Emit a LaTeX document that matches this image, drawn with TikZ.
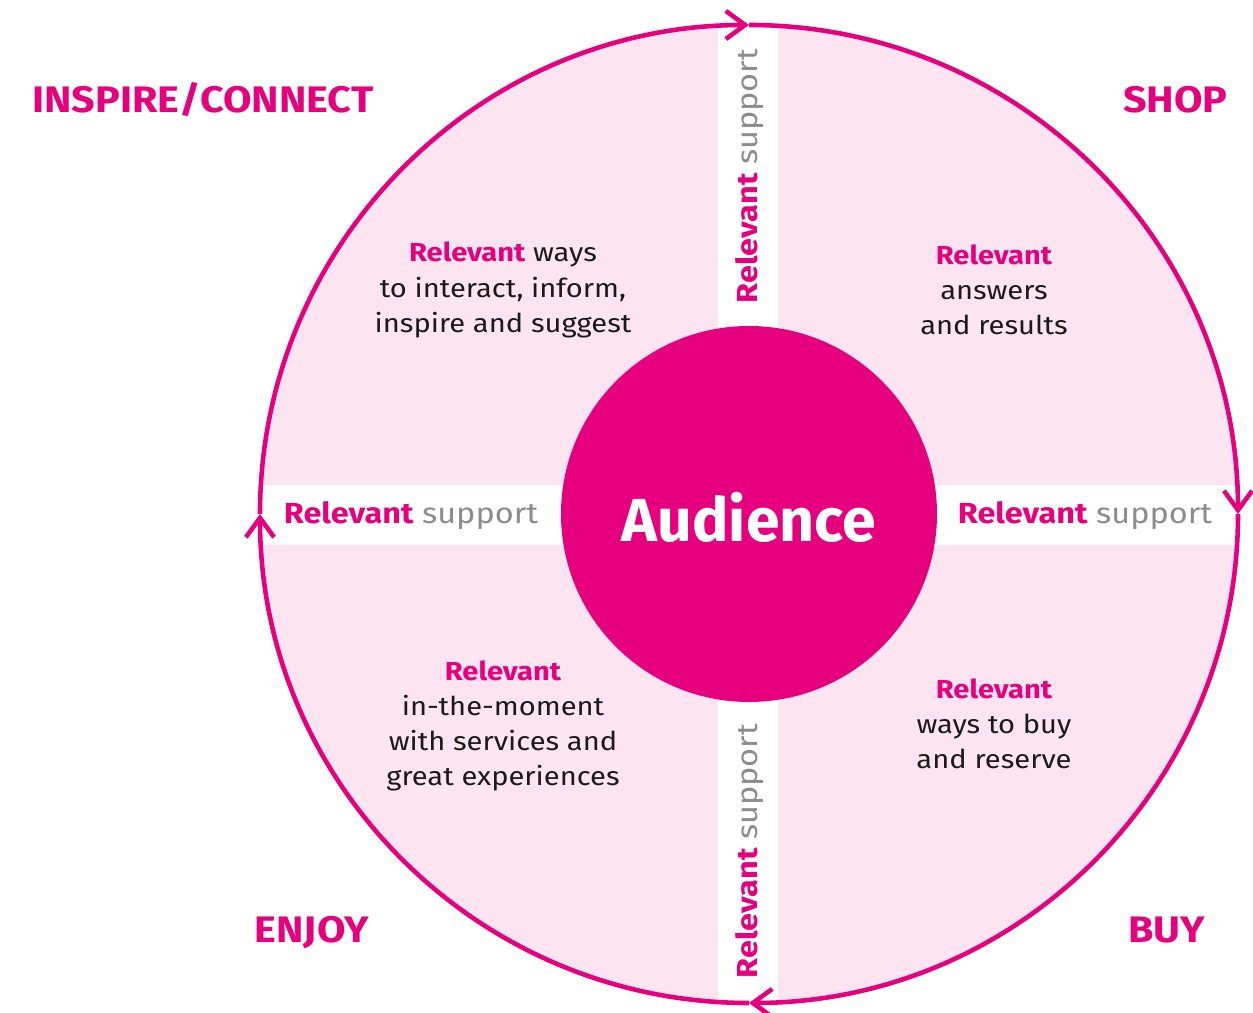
\documentclass[tikz,border=0pt]{standalone}
\usepackage{fontspec}
\setmainfont[FakeStretch=1.12]{Fira Sans}
\newfontfamily\hubfont{Fira Sans}
\usepackage{xcolor}
\usepackage{tikz}
\usetikzlibrary{arrows.meta}
\definecolor{brand}{HTML}{E6007E}
\definecolor{blush}{HTML}{FCE4F0}
\definecolor{muted}{HTML}{8C8C8C}
\definecolor{ink}{HTML}{1A1A1A}
\newcommand{\rel}{\textbf{\textcolor{brand}{Relevant}}}
\tikzset{
    stage/.style={inner sep=0pt, text=brand, font=\fontsize{21}{25}\selectfont\bfseries},
    quadrant/.style={align=center, text=ink, font=\fontsize{14.8}{20}\selectfont},
    support/.style={inner sep=0pt, text=muted, font=\fontsize{16.5}{20}\selectfont},
    hub/.style={text=white, font=\hubfont\fontsize{34.6}{40}\selectfont\bfseries},
    cycle/.style={draw=brand, line width=2.6pt, -{Straight Barb[length=11pt, width=16pt]}}
}

\begin{document}
\begin{tikzpicture}[x=0.02cm, y=0.02cm]
    \useasboundingbox (0,0) rectangle (1253,1013);
    \coordinate (centre) at (749,499);

    % ring with the two white support bands
    \fill [blush] (centre) circle [radius=489];
    \begin{scope}
        \clip (centre) circle [radius=489];
        \fill [white] (718,0) rectangle (778,1013);
        \fill [white] (0,468) rectangle (1253,528);
    \end{scope}

    % clockwise cycle, one quarter per stage
    \draw [cycle] (centre) ++(180:489) arc [start angle=180, end angle=90, radius=489];
    \draw [cycle] (centre) ++(90:489) arc [start angle=90, end angle=0, radius=489];
    \draw [cycle] (centre) ++(0:489) arc [start angle=0, end angle=-90, radius=489];
    \draw [cycle] (centre) ++(-90:489) arc [start angle=-90, end angle=-180, radius=489];

    \fill [brand] (centre) circle [radius=188];
    \node [hub] (audience) at (749,496) {Audience};

    % stage names
    \node [stage, anchor=base west] (inspire) at (32,900) {INSPIRE/CONNECT};
    \node [stage, anchor=base east] (shop) at (1228,900) {SHOP};
    \node [stage, anchor=base east] (enjoy) at (369,70) {ENJOY};
    \node [stage, anchor=base west] (buy) at (1128,70) {BUY};

    % quadrant texts
    \node [quadrant] (ways) at (503,723) {\rel{} ways\\to interact, inform,\\inspire and suggest};
    \node [quadrant] (answers) at (994,723) {\rel\\answers\\and results};
    \node [quadrant] (moment) at (503,287) {\rel\\in-the-moment\\with services and\\great experiences};
    \node [quadrant] (reserve) at (994,289) {\rel\\ways to buy\\and reserve};

    % support labels in the bands
    \node [support] (sup left) at (411,497) {\rel{} support};
    \node [support] (sup right) at (1085,497) {\rel{} support};
    \node [support, rotate=90] (sup top) at (750,837) {\rel{} support};
    \node [support, rotate=90] (sup bottom) at (750,162) {\rel{} support};
\end{tikzpicture}
\end{document}
